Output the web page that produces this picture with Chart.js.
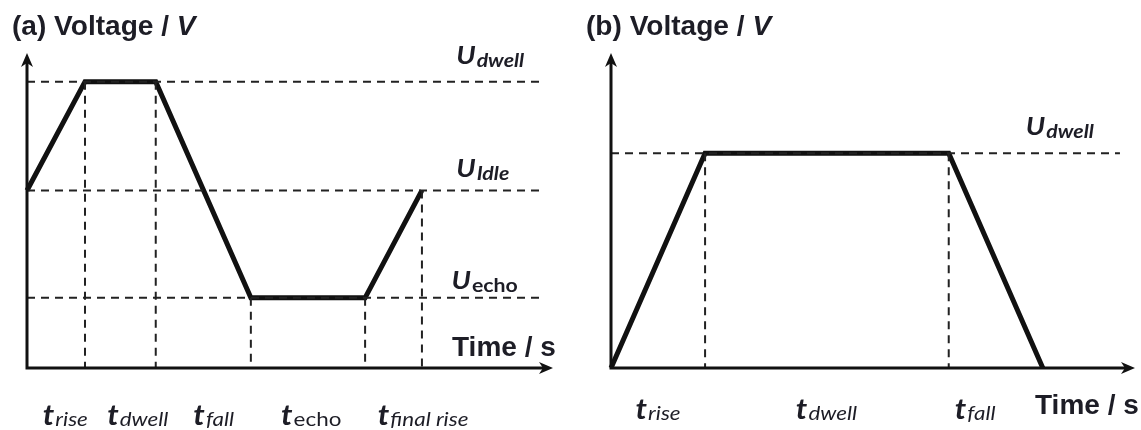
<!DOCTYPE html>
<html><head><meta charset="utf-8">
<script src="https://cdn.jsdelivr.net/npm/chart.js@4/dist/chart.umd.min.js"></script>
<style>
html,body{margin:0;padding:0;background:#fff;}
#wrap{position:relative;width:1141px;height:430px;overflow:hidden;}
canvas{position:absolute;top:0;}
#ca{left:0;}
#cb{left:570px;}
</style></head><body>
<div id="wrap">
<canvas id="ca" width="570" height="430"></canvas>
<canvas id="cb" width="571" height="430"></canvas>
</div>
<script>
// Panel (a): waveform with echo step
const timeA = [0, 1.0, 2.22, 3.86, 5.83, 6.81];
const voltA = [0.62, 1.0, 1.0, 0.245, 0.245, 0.62];
const levelNamesA = ['dwell', 'Idle', 'echo'];
const levelValuesA = [1.0, 0.62, 0.245];
const phaseNamesA = ['rise', 'dwell', 'fall', 'echo', 'final rise'];

// Panel (b): trapezoid waveform
const timeB = [0, 1.0, 3.59, 4.59];
const voltB = [0, 0.75, 0.75, 0];
const levelNamesB = ['dwell'];
const levelValuesB = [0.75];
const phaseNamesB = ['rise', 'dwell', 'fall'];

const INK = '#111';
const TEXT = '#1d1d26';
const LABEL_FONT = 'Lato, "Open Sans", sans-serif';
const HEAD_FONT = '"Liberation Sans", Arial, sans-serif';

function buildDatasets(times, volts, levels, dashEnd) {
  const sets = [];
  const dashStyle = {
    borderColor: '#222', borderWidth: 2, borderDash: [8, 6],
    pointRadius: 0, fill: false, tension: 0, clip: false
  };
  levels.forEach(v => sets.push(Object.assign({
    data: [{x: 0, y: v}, {x: dashEnd, y: v}]
  }, dashStyle)));
  times.forEach((t, i) => {
    if (t > 0 && volts[i] > 0) {
      sets.push(Object.assign({data: [{x: t, y: volts[i]}, {x: t, y: 0}]}, dashStyle));
    }
  });
  sets.push({
    data: times.map((t, i) => ({x: t, y: volts[i]})),
    borderColor: INK, borderWidth: 5, pointRadius: 0, fill: false,
    tension: 0, clip: false, borderJoinStyle: 'miter', borderCapStyle: 'butt'
  });
  return sets;
}

// mixed-font text run, optionally widened horizontally
function runWidth(ctx, parts) {
  let w = 0;
  parts.forEach(p => { ctx.font = p.font; w += ctx.measureText(p.text).width + (p.gap || 0); });
  return w;
}
function drawRun(ctx, parts, x, y, align, sx) {
  sx = sx || 1;
  const w = runWidth(ctx, parts) * sx;
  const startX = align === 'center' ? x - w / 2 : x;
  ctx.save();
  ctx.translate(startX, y);
  ctx.scale(sx, 1);
  ctx.textBaseline = 'alphabetic';
  ctx.textAlign = 'left';
  let cx = 0;
  parts.forEach(p => {
    ctx.font = p.font;
    ctx.fillStyle = p.color || TEXT;
    ctx.fillText(p.text, cx, p.dy || 0);
    cx += ctx.measureText(p.text).width + (p.gap || 0);
  });
  ctx.restore();
}

function arrowHead(ctx, tipX, tipY, dir) {
  const L = 14, W = 6, N = 4;
  ctx.beginPath();
  if (dir === 'up') {
    ctx.moveTo(tipX, tipY);
    ctx.lineTo(tipX + W, tipY + L);
    ctx.lineTo(tipX, tipY + L - N);
    ctx.lineTo(tipX - W, tipY + L);
  } else {
    ctx.moveTo(tipX, tipY);
    ctx.lineTo(tipX - L, tipY + W);
    ctx.lineTo(tipX - L + N, tipY);
    ctx.lineTo(tipX - L, tipY - W);
  }
  ctx.closePath();
  ctx.fill();
}

const diagramPlugin = {
  id: 'diagram',
  afterDatasetsDraw(chart, args, opts) {
    const ctx = chart.ctx;
    const a = chart.chartArea;
    const xs = chart.scales.x, ys = chart.scales.y;
    ctx.save();
    // axes with arrow heads
    ctx.strokeStyle = INK; ctx.fillStyle = INK; ctx.lineWidth = 3;
    ctx.lineCap = 'butt';
    ctx.beginPath();
    ctx.moveTo(a.left, a.bottom + 1.5); ctx.lineTo(a.left, a.top + 8);
    ctx.moveTo(a.left - 1.5, a.bottom); ctx.lineTo(a.right - 8, a.bottom);
    ctx.stroke();
    arrowHead(ctx, a.left, a.top, 'up');
    arrowHead(ctx, a.right, a.bottom, 'right');

    // panel title
    drawRun(ctx, [
      {text: opts.tag + ' Voltage / ', font: 'bold 27px ' + HEAD_FONT},
      {text: 'V', font: 'italic bold 27px ' + HEAD_FONT}
    ], opts.titleX, 35, 'left', 1.04);

    // axis name
    drawRun(ctx, [{text: 'Time / s', font: 'bold 28px ' + HEAD_FONT}],
      opts.timeX, opts.timeY, 'left', 1.0);

    // level labels
    opts.levels.forEach((v, i) => {
      const y = ys.getPixelForValue(v) - opts.levelGap[i];
      drawRun(ctx, [
        {text: 'U', font: 'italic bold 25px ' + LABEL_FONT, gap: 1},
        {text: opts.levelNames[i], font: opts.levelSubStyle[i] + ' 19px ' + LABEL_FONT, dy: 3}
      ], xs.getPixelForValue(opts.levelX[i]), y, 'left', 1.12);
    });

    // phase labels under the time axis
    opts.phaseNames.forEach((name, i) => {
      drawRun(ctx, [
        {text: 't', font: 'italic bold 28px ' + LABEL_FONT, gap: 1},
        {text: name, font: opts.phaseSubStyle[i] + ' 20px ' + LABEL_FONT, dy: 1}
      ], xs.getPixelForValue(opts.phaseX[i]), opts.phaseY, 'center', 1.12);
    });
    ctx.restore();
  }
};

function makeChart(id, cfg) {
  return new Chart(document.getElementById(id), {
    type: 'line',
    data: {datasets: buildDatasets(cfg.times, cfg.volts, cfg.levels, cfg.dashEnd)},
    options: {
      responsive: false, animation: false, devicePixelRatio: 1,
      layout: {padding: cfg.padding},
      events: [],
      scales: {
        x: {type: 'linear', min: 0, max: cfg.xMax, display: false},
        y: {type: 'linear', min: 0, max: 1.10, display: false}
      },
      plugins: {
        legend: {display: false}, tooltip: {enabled: false},
        diagram: cfg.deco
      }
    },
    plugins: [diagramPlugin]
  });
}

makeChart('ca', {
  times: timeA, volts: voltA, levels: levelValuesA, dashEnd: 8.9, xMax: 9.07,
  padding: {left: 27, right: 17, top: 53, bottom: 62},
  deco: {
    tag: '(a)', titleX: 12, timeX: 452, timeY: 356,
    levels: levelValuesA, levelNames: levelNamesA, levelX: [7.4, 7.4, 7.32],
    levelGap: [18, 13, 9],
    levelSubStyle: ['italic bold', 'italic bold', 'bold'],
    phaseNames: phaseNamesA, phaseX: [0.66, 1.91, 3.22, 4.9, 6.83],
    phaseSubStyle: ['italic', 'italic', 'italic', 'normal', 'italic'],
    phaseY: 425
  }
});

makeChart('cb', {
  times: timeB, volts: voltB, levels: levelValuesB, dashEnd: 5.41, xMax: 5.57,
  padding: {left: 41, right: 6, top: 53, bottom: 62},
  deco: {
    tag: '(b)', titleX: 16, timeX: 465, timeY: 414,
    levels: levelValuesB, levelNames: levelNamesB, levelX: [4.41],
    levelGap: [18],
    levelSubStyle: ['italic bold'],
    phaseNames: phaseNamesB, phaseX: [0.5, 2.29, 3.87],
    phaseSubStyle: ['italic', 'italic', 'italic'],
    phaseY: 419
  }
});
</script>
</body></html>
